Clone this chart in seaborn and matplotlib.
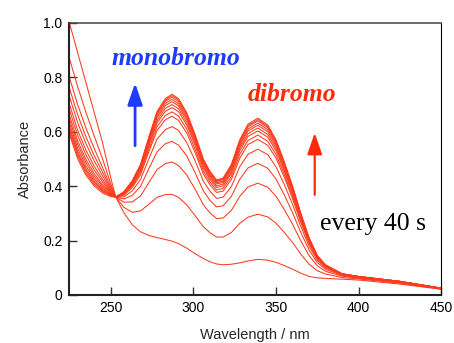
import numpy as np
import pandas as pd
import matplotlib
matplotlib.use("Agg")
import matplotlib.pyplot as plt
import seaborn as sns

wavelength = [225, 230, 235, 240, 245, 250, 253, 258, 263, 268, 273, 278, 283, 287,
              291, 296, 301, 306, 310, 314, 318, 323, 328, 333, 339, 345, 350, 355,
              360, 365, 370, 375, 380, 390, 400, 425, 450]

# absorbance, one spectrum every 40 s
abs_t000 = [1.00, .890, .780, .670, .560, .430, .360, .302, .258, .232, .219, .211, .204, .198,
            .189, .172, .152, .134, .122, .114, .111, .113, .118, .125, .131, .128, .120, .108,
            .095, .080, .068, .063, .061, .058, .055, .040, .021]
abs_t040 = [.869, .765, .671, .584, .501, .408, .360, .322, .304, .309, .333, .359, .369, .370,
            .359, .331, .292, .251, .229, .213, .213, .230, .263, .286, .297, .287, .264, .230,
            .193, .150, .113, .089, .077, .064, .059, .043, .022]
abs_t080 = [.799, .699, .613, .538, .469, .397, .360, .341, .342, .364, .413, .461, .483, .489,
            .476, .441, .389, .332, .302, .281, .283, .311, .362, .397, .411, .396, .363, .314,
            .260, .199, .145, .107, .087, .069, .062, .045, .023]
abs_t120 = [.760, .662, .581, .512, .452, .390, .360, .353, .366, .399, .464, .526, .556, .565,
            .551, .511, .450, .383, .348, .324, .328, .363, .425, .467, .484, .466, .426, .368,
            .302, .230, .165, .119, .094, .072, .064, .047, .024]
abs_t160 = [.729, .633, .556, .492, .438, .385, .360, .361, .383, .425, .500, .573, .608, .619,
            .605, .560, .494, .419, .382, .355, .360, .399, .471, .517, .536, .516, .471, .406,
            .333, .252, .179, .127, .099, .074, .065, .048, .024]
abs_t200 = [.701, .605, .532, .473, .425, .380, .360, .367, .395, .442, .526, .605, .644, .657,
            .642, .595, .524, .445, .405, .377, .382, .425, .502, .553, .572, .550, .503, .433,
            .354, .267, .189, .133, .103, .075, .066, .049, .024]
abs_t240 = [.680, .586, .515, .459, .416, .377, .360, .370, .400, .450, .536, .619, .660, .673,
            .658, .610, .537, .456, .415, .386, .392, .436, .516, .568, .588, .565, .516, .444,
            .363, .274, .193, .135, .104, .076, .066, .049, .025]
abs_t280 = [.660, .566, .498, .446, .406, .374, .360, .372, .405, .457, .547, .633, .675, .689,
            .674, .625, .551, .467, .425, .395, .401, .447, .529, .583, .603, .580, .530, .456,
            .373, .280, .197, .138, .106, .076, .067, .049, .025]
abs_t320 = [.645, .553, .486, .436, .400, .371, .360, .374, .408, .462, .555, .642, .686, .700,
            .685, .635, .559, .474, .432, .401, .408, .454, .538, .593, .614, .590, .539, .463,
            .379, .285, .200, .139, .107, .077, .067, .049, .025]
abs_t360 = [.631, .539, .474, .427, .393, .369, .360, .376, .412, .467, .562, .652, .696, .711,
            .695, .645, .568, .482, .438, .408, .414, .462, .547, .603, .624, .600, .548, .471,
            .385, .289, .203, .141, .108, .077, .067, .050, .025]
abs_t400 = [.619, .527, .464, .419, .388, .367, .360, .377, .414, .471, .567, .659, .704, .719,
            .703, .653, .575, .487, .443, .412, .419, .467, .554, .610, .632, .608, .554, .477,
            .389, .292, .205, .142, .108, .077, .068, .050, .025]
abs_t440 = [.610, .519, .457, .413, .384, .365, .360, .378, .417, .475, .573, .666, .712, .727,
            .711, .660, .581, .493, .448, .417, .424, .473, .561, .618, .640, .615, .561, .482,
            .394, .296, .207, .143, .109, .078, .068, .050, .025]
abs_t480 = [.600, .510, .448, .407, .380, .364, .360, .379, .418, .477, .576, .670, .717, .733,
            .717, .665, .586, .496, .452, .420, .427, .476, .565, .623, .645, .620, .566, .486,
            .397, .298, .209, .144, .110, .078, .068, .050, .025]
abs_t520 = [.590, .500, .440, .400, .375, .362, .360, .380, .420, .480, .580, .675, .722, .738,
            .722, .670, .590, .500, .455, .423, .430, .480, .570, .628, .650, .625, .570, .490,
            .400, .300, .210, .145, .110, .078, .068, .050, .025]

spectra = [abs_t000, abs_t040, abs_t080, abs_t120, abs_t160, abs_t200, abs_t240,
           abs_t280, abs_t320, abs_t360, abs_t400, abs_t440, abs_t480, abs_t520]
times = [40 * i for i in range(len(spectra))]

xticks = [250, 300, 350, 400, 450]
yticks = [0, 0.2, 0.4, 0.6, 0.8, 1.0]
ytick_labels = ["0", "0.2", "0.4", "0.6", "0.8", "1.0"]

df = pd.concat([pd.DataFrame({"wavelength": wavelength, "absorbance": s, "time": t})
                for s, t in zip(spectra, times)], ignore_index=True)

sns.set_style("ticks")
plt.rcParams["font.family"] = ["Liberation Sans", "DejaVu Sans"]
plt.rcParams["xtick.direction"] = "in"
plt.rcParams["ytick.direction"] = "in"

fig = plt.figure(figsize=(4.54, 3.43), dpi=100)
ax = fig.add_axes([0.153, 0.140, 0.819, 0.793])

line_color = "#ff3a1c"
sns.lineplot(data=df, x="wavelength", y="absorbance", units="time", estimator=None,
             color=line_color, lw=0.75, sort=False, ax=ax, legend=False)

ax.set_xlim(225, 450)
ax.set_ylim(0, 1.0)
ax.set_xticks(xticks)
ax.set_yticks(yticks)
ax.set_yticklabels(ytick_labels)
ax.tick_params(axis="both", length=5.5, width=1.0, color="#333333", labelsize=10,
               labelcolor="black")
ax.tick_params(axis="y", pad=5)
ax.tick_params(axis="x", pad=4)

ax.set_xlabel("Wavelength / nm", fontsize=10.5, labelpad=10)
ax.set_ylabel("Absorbance", fontsize=10.5, labelpad=8)

for side in ["left", "bottom"]:
    ax.spines[side].set_linewidth(1.5)
    ax.spines[side].set_color("#222222")
ax.spines["top"].set_linewidth(1.1)
ax.spines["top"].set_color("#444444")
ax.spines["right"].set_linewidth(0.8)
ax.spines["right"].set_color("black")

serif = ["Liberation Serif", "DejaVu Serif"]
ax.text(250.5, 0.846, "monobromo", color="#1e3cff", fontsize=18.5, fontweight="bold",
        fontstyle="italic", family=serif, ha="left", va="baseline")
ax.text(333, 0.713, "dibromo", color="#ff2a0a", fontsize=18.5, fontweight="bold",
        fontstyle="italic", family=serif, ha="left", va="baseline")
ax.text(376.4, 0.239, "every 40 s", color="black", fontsize=18.5, family=serif,
        ha="left", va="baseline")

arrow_style = "-|>,head_length=1.3,head_width=0.45"
ax.annotate("", xy=(264.7, 0.779), xytext=(264.7, 0.549),
            arrowprops=dict(arrowstyle=arrow_style, color="#1e3cff", lw=2,
                            shrinkA=0, shrinkB=0))
ax.annotate("", xy=(373.4, 0.596), xytext=(373.4, 0.368),
            arrowprops=dict(arrowstyle=arrow_style, color="#ff2a0a", lw=1.6,
                            shrinkA=0, shrinkB=0))

fig.savefig("out.png", dpi=100)
